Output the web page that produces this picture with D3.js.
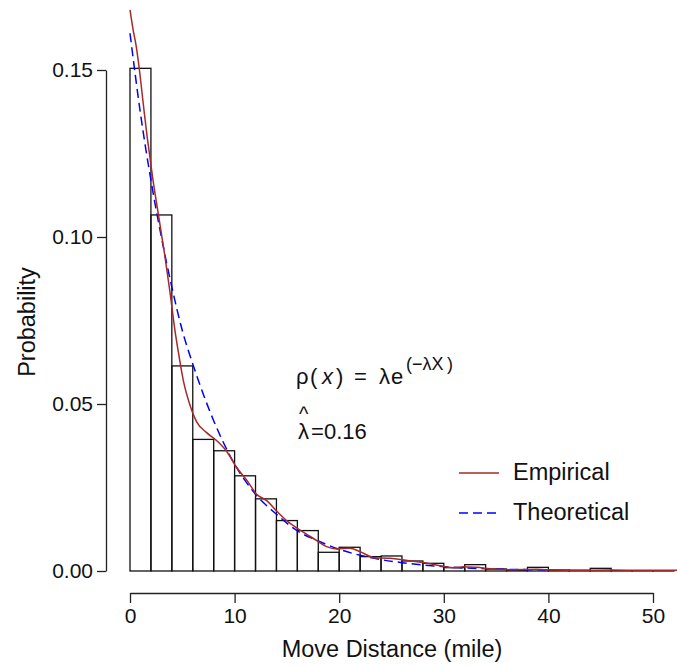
<!DOCTYPE html>
<html>
<head>
<meta charset="utf-8">
<script src="https://cdn.jsdelivr.net/npm/d3@7"></script>
<style>
  body { margin: 0; background: #fff; }
  svg { display: block; font-family: "Liberation Sans", Arial, sans-serif; }
</style>
</head>
<body>
<div id="container"></div>
<script>
// histogram bins (left edges, width 2 miles) and their probability heights
const binStarts = [0, 2, 4, 6, 8, 10, 12, 14, 16, 18, 20, 22, 24, 26, 28, 30, 32, 34, 36, 38, 40, 42, 44, 46, 48, 50];
const binHeights = [0.1505, 0.1066, 0.0614, 0.0394, 0.0360, 0.0285, 0.0216, 0.0151, 0.0121, 0.0056, 0.0071, 0.0043, 0.0045,
  0.0030, 0.0023, 0.0010, 0.0019, 0.0006, 0.0004, 0.0011, 0.0003, 0.0002, 0.0008, 0.0001, 0.0001, 0.0001];
const binWidth = 2;

// empirical density curve
const empX = [0, 0.3, 0.6, 0.9, 1.3, 1.6, 1.9, 2.2, 2.7, 3.3, 3.8, 4.3, 4.6, 5.1, 5.7, 6.4, 7.3, 8.3, 9.2, 10.2, 11.2, 12.1,
  13.1, 14.0, 15.0, 15.9, 16.9, 17.9, 18.8, 19.8, 21.0, 22.0, 23.3, 24.9, 26.2, 27.8, 29.3, 30.9, 31.9, 33.1, 34.8, 36.5,
  38.9, 40.5, 43, 46, 49, 52.3];
const empY = [0.168, 0.162, 0.157, 0.150, 0.139, 0.131, 0.124, 0.117, 0.107, 0.095, 0.084, 0.072, 0.066, 0.057, 0.050, 0.0445,
  0.0415, 0.039, 0.036, 0.031, 0.027, 0.023, 0.021, 0.018, 0.015, 0.013, 0.011, 0.009, 0.0073, 0.0066, 0.0068, 0.0058,
  0.0040, 0.0038, 0.0033, 0.0026, 0.0018, 0.0010, 0.0013, 0.0011, 0.0006, 0.0004, 0.0005, 0.0003, 0.0002, 0.0003, 0.0002, 0.0002];

// theoretical exponential curve
const theoX = [0, 1, 2, 3, 4, 5, 6, 8, 10, 12, 14, 16, 18, 20, 22, 24, 26, 28, 30, 32, 34, 36, 38, 40.3];
const theoY = [0.161, 0.137, 0.117, 0.100, 0.085, 0.072, 0.062, 0.045, 0.032, 0.023, 0.017, 0.012, 0.009, 0.0065, 0.0047,
  0.0034, 0.0025, 0.0018, 0.0013, 0.0009, 0.0007, 0.0005, 0.0004, 0.0003];

const xTicks = [0, 10, 20, 30, 40, 50];
const yTicks = [0, 0.05, 0.10, 0.15];
const legendLabels = ["Empirical", "Theoretical"];

const W = 677, H = 665;
const red = "#A52A2A", blue = "#0000FF";

const svg = d3.select("#container").append("svg")
  .attr("width", W)
  .attr("height", H);

const x = d3.scaleLinear().domain([0, 50]).range([130, 653]);
const y = d3.scaleLinear().domain([0, 0.15]).range([571, 70]);

// bars
svg.append("g")
  .selectAll("rect")
  .data(binStarts.map((s, i) => ({ s, h: binHeights[i] })))
  .join("rect")
  .attr("x", d => x(d.s))
  .attr("y", d => y(d.h))
  .attr("width", d => x(d.s + binWidth) - x(d.s))
  .attr("height", d => y(0) - y(d.h))
  .attr("fill", "none")
  .attr("stroke", "#111")
  .attr("stroke-width", 1.3);

// curves
const line = d3.line()
  .x(d => x(d[0]))
  .y(d => y(d[1]))
  .curve(d3.curveMonotoneX);

svg.append("path")
  .datum(theoX.map((v, i) => [v, theoY[i]]))
  .attr("d", line)
  .attr("fill", "none")
  .attr("stroke", blue)
  .attr("stroke-width", 1.5)
  .attr("stroke-dasharray", "9,5");

svg.append("path")
  .datum(empX.map((v, i) => [v, empY[i]]))
  .attr("d", line)
  .attr("fill", "none")
  .attr("stroke", red)
  .attr("stroke-width", 1.5);

// axes
const yAxis = d3.axisLeft(y)
  .tickValues(yTicks)
  .tickFormat(d3.format(".2f"))
  .tickSize(9)
  .tickSizeOuter(0)
  .tickPadding(4);

const yg = svg.append("g")
  .attr("transform", "translate(106,0)")
  .call(yAxis);

const xAxis = d3.axisBottom(x)
  .tickValues(xTicks)
  .tickSize(10)
  .tickSizeOuter(0)
  .tickPadding(5);

const xg = svg.append("g")
  .attr("transform", "translate(0,593)")
  .call(xAxis);

[yg, xg].forEach(g => {
  g.attr("font-family", null).attr("font-size", null);
  g.selectAll("path, line").attr("stroke", "#222").attr("stroke-width", 1.3);
  g.selectAll("text").attr("fill", "#111").style("font-size", "21px");
});

// axis titles
svg.append("text")
  .attr("x", 392)
  .attr("y", 657)
  .attr("text-anchor", "middle")
  .style("font-size", "23.5px")
  .attr("fill", "#111")
  .text("Move Distance (mile)");

svg.append("text")
  .attr("transform", "translate(35,322) rotate(-90)")
  .attr("text-anchor", "middle")
  .style("font-size", "23.5px")
  .attr("fill", "#111")
  .text("Probability");

// formula
const f = svg.append("g").attr("fill", "#111").style("font-size", "22px");
f.append("text").attr("x", 296).attr("y", 384).text("ρ");
f.append("text").attr("x", 310).attr("y", 384).text("(");
f.append("text").attr("x", 322).attr("y", 384).style("font-style", "italic").text("x");
f.append("text").attr("x", 336).attr("y", 384).text(")");
f.append("text").attr("x", 354).attr("y", 384).text("=");
f.append("text").attr("x", 379).attr("y", 384).text("λ");
f.append("text").attr("x", 391).attr("y", 384).text("e");
f.append("text").attr("x", 406).attr("y", 370).style("font-size", "18px").text("(");
f.append("text").attr("x", 412).attr("y", 370).style("font-size", "18px").text("−λX");
f.append("text").attr("x", 447).attr("y", 370).style("font-size", "18px").text(")");

f.append("text").attr("x", 299).attr("y", 421).style("font-size", "20px").text("^");
f.append("text").attr("x", 298).attr("y", 439).text("λ");
f.append("text").attr("x", 311).attr("y", 439).text("=");
f.append("text").attr("x", 324).attr("y", 439).text("0.16");

// legend
const legend = svg.append("g");
const legendRows = legend.selectAll("g")
  .data(legendLabels)
  .join("g")
  .attr("transform", (d, i) => `translate(459,${473 + i * 40})`);

legendRows.append("line")
  .attr("x1", 0).attr("x2", 40)
  .attr("stroke", (d, i) => i === 0 ? red : blue)
  .attr("stroke-width", 1.5)
  .attr("stroke-dasharray", (d, i) => i === 0 ? null : "9,5");

legendRows.append("text")
  .attr("x", 54)
  .attr("y", 7)
  .style("font-size", "23.5px")
  .attr("fill", "#111")
  .text(d => d);
</script>
</body>
</html>
